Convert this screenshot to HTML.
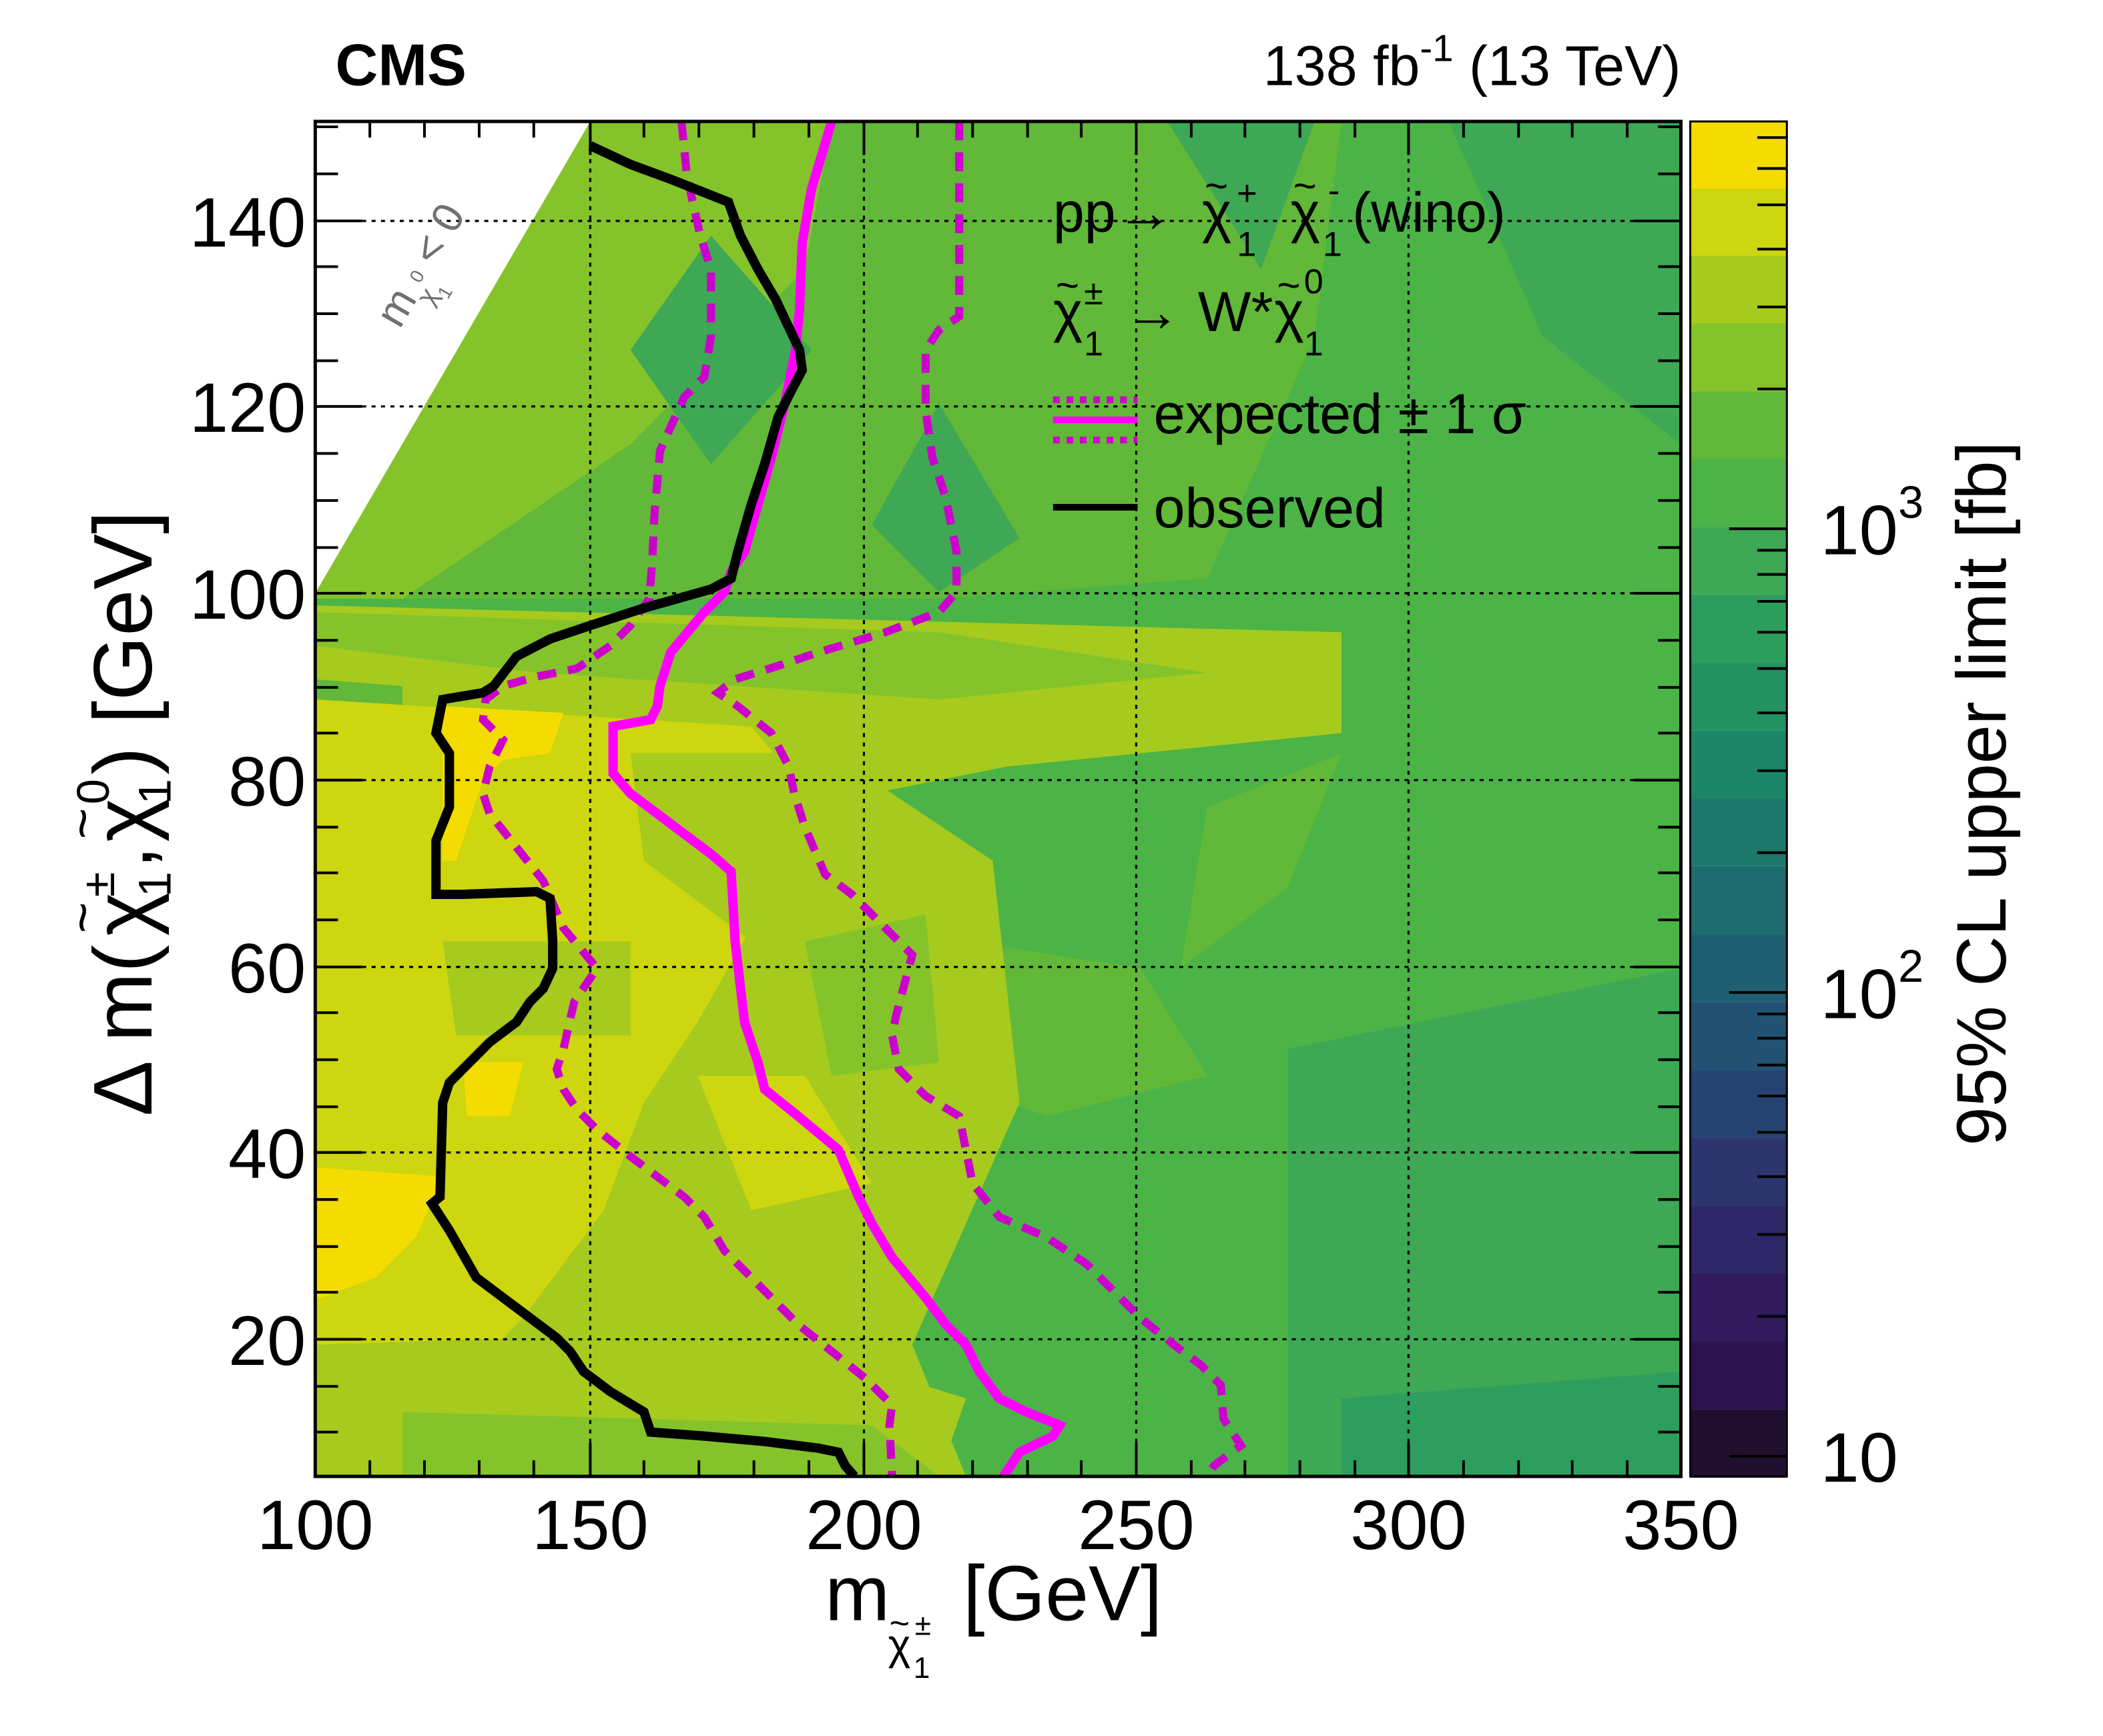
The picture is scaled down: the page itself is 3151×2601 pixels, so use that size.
<!DOCTYPE html>
<html><head><meta charset="utf-8"><style>
html,body{margin:0;padding:0;background:#fff;}
svg{display:block;font-family:"Liberation Sans",sans-serif;}
</style></head><body>
<svg width="3151" height="2601" viewBox="0 0 3151 2601" xmlns="http://www.w3.org/2000/svg">
<defs><clipPath id="pc"><rect x="235" y="90" width="1018" height="1008"/></clipPath></defs>
<g transform="matrix(2.01 0 0 2.014 0 0.7)">
<g clip-path="url(#pc)">
<rect x="235" y="90" width="1018" height="1008" fill="#4cb447"/>
<polygon points="235,90 1000,90 980,250 900,430 700,445 235,445" fill="#62b838"/>
<polygon points="440,90 620,90 600,200 470,330 300,445 235,445 235,300" fill="#84c42a"/>
<polygon points="1000,90 1253,90 1253,450 900,450 980,250" fill="#4cb447"/>
<polygon points="1080,90 1253,90 1253,330 1150,250" fill="#3ea854"/>
<polygon points="470,260 530,175 605,260 530,345" fill="#3ea854"/>
<polygon points="650,390 700,300 760,400 700,440" fill="#3ea854"/>
<polygon points="870,90 980,90 940,200" fill="#3ea854"/>
<polygon points="235,450 1000,470 1000,545 750,570 600,600 235,560" fill="#a6ca1e"/>
<polygon points="235,455 700,470 900,500 700,520 400,500 235,480" fill="#84c42a"/>
<polygon points="235,505 300,510 300,540 235,545" fill="#62b838"/>
<polygon points="700,620 1000,560 1253,560 1253,1098 700,1098 720,900" fill="#4cb447"/>
<polygon points="900,600 1000,560 960,660 880,720" fill="#62b838"/>
<polygon points="720,700 850,720 900,800 780,830 700,800" fill="#62b838"/>
<polygon points="960,780 1253,720 1253,1098 960,1098" fill="#3ea854"/>
<polygon points="1000,1040 1253,1020 1253,1098 1000,1098" fill="#2e9e5e"/>
<polygon points="235,540 620,560 740,640 760,820 680,1000 720,1098 235,1098" fill="#a6ca1e"/>
<polygon points="235,520 560,540 610,600 560,690 520,760 480,820 450,900 390,980 310,1060 235,1070" fill="#cdd60f"/>
<polygon points="470,560 600,560 640,640 560,700 480,640" fill="#a6ca1e"/>
<polygon points="330,700 470,700 470,770 340,770" fill="#a6ca1e"/>
<polygon points="600,700 690,680 700,790 620,800" fill="#84c42a"/>
<polygon points="520,800 600,800 650,880 560,900" fill="#cdd60f"/>
<polygon points="235,1000 560,990 720,1040 700,1098 235,1098" fill="#a6ca1e"/>
<polygon points="300,1050 650,1060 700,1098 300,1098" fill="#84c42a"/>
<polygon points="235,868 330,875 310,920 280,950 240,965 235,965" fill="#f5dc00"/>
<polygon points="330,525 420,530 410,560 375,565 360,580 340,640 330,640" fill="#f5dc00"/>
<polygon points="345,790 390,790 380,830 348,830" fill="#f5dc00"/>
<polygon points="235,90 440,90 235,441" fill="#fff"/>
</g>
<g stroke="#000" stroke-width="1.6" stroke-dasharray="3,4">
<line x1="440" y1="90" x2="440" y2="1098"/><line x1="644" y1="90" x2="644" y2="1098"/>
<line x1="847" y1="90" x2="847" y2="1098"/><line x1="1050" y1="90" x2="1050" y2="1098"/>
<line x1="235" y1="996" x2="1253" y2="996"/><line x1="235" y1="857" x2="1253" y2="857"/>
<line x1="235" y1="719" x2="1253" y2="719"/><line x1="235" y1="580" x2="1253" y2="580"/>
<line x1="235" y1="441" x2="1253" y2="441"/><line x1="235" y1="302" x2="1253" y2="302"/>
<line x1="235" y1="164" x2="1253" y2="164"/>
</g>
<g clip-path="url(#pc)" fill="none" stroke-linejoin="miter">
<polyline stroke="#cc00cc" stroke-width="6" stroke-dasharray="14,9" points="508,90 512,130 522,175 530,200 530,250 525,280 510,295 492,335 488,380 486,420 484,445 470,465 455,480 430,497 400,503 375,510 362,520 360,535 375,550 365,570 360,590 365,605 385,630 405,655 420,690 445,720 428,745 420,780 415,795 420,810 430,825 445,840 470,860 490,875 510,890 525,905 540,930 555,945 575,965 595,985 620,1005 645,1025 665,1045 663,1060 665,1098"/>
<polyline stroke="#cc00cc" stroke-width="6" stroke-dasharray="14,9" points="715,90 715,150 715,235 700,245 690,260 690,305 695,340 705,370 713,410 713,440 700,455 660,470 610,485 580,495 548,505 535,515 550,525 575,545 588,570 592,590 600,615 615,650 635,665 655,685 680,710 672,740 668,755 665,770 670,795 690,815 715,830 720,855 725,880 745,905 780,920 810,940 830,960 850,980 875,1000 895,1015 910,1030 912,1055 925,1075 905,1090 900,1098"/>
<polyline stroke="#ff00ff" stroke-width="7" points="620,90 605,140 598,180 596,230 593,260 585,300 575,340 565,375 555,410 545,425 540,440 525,455 500,485 492,510 490,525 485,535 457,540 457,575 470,590 490,605 510,620 530,635 545,648 548,700 555,760 565,790 570,810 595,830 625,855 640,890 650,910 665,935 690,965 705,985 720,1000 730,1020 745,1040 765,1050 790,1060 785,1068 760,1080 748,1098"/>
<polyline stroke="#000" stroke-width="7" points="440,108 470,122 500,133 543,150 552,175 565,200 578,222 596,260 598,275 590,290 580,310 570,345 560,375 550,410 545,430 530,438 480,452 440,465 410,475 385,488 368,510 360,515 330,520 325,545 335,560 335,600 325,625 325,665 345,665 400,663 410,668 412,700 412,720 405,735 395,745 385,760 365,775 345,795 335,805 330,820 328,890 322,895 335,915 355,950 375,965 395,980 415,995 425,1005 435,1020 455,1035 480,1050 485,1065 525,1068 570,1072 610,1077 625,1080 630,1090 637,1098"/>
</g>
<rect x="235" y="90" width="1018" height="1008" fill="none" stroke="#000" stroke-width="2.5"/>
<g stroke="#000" stroke-width="2">
<path d="M235,1098v-25M275.7,1098v-12M316.4,1098v-12M357.2,1098v-12M397.9,1098v-12M440,1098v-25M480,1098v-12M521,1098v-12M562,1098v-12M603,1098v-12M644,1098v-25M684,1098v-12M725,1098v-12M766,1098v-12M806,1098v-12M847,1098v-25M888,1098v-12M928,1098v-12M969,1098v-12M1010,1098v-12M1050,1098v-25M1091,1098v-12M1132,1098v-12M1172,1098v-12M1213,1098v-12"/>
<path d="M235,90v25M275.7,90v12M316.4,90v12M357.2,90v12M397.9,90v12M440,90v25M480,90v12M521,90v12M562,90v12M603,90v12M644,90v25M684,90v12M725,90v12M766,90v12M806,90v12M847,90v25M888,90v12M928,90v12M969,90v12M1010,90v12M1050,90v25M1091,90v12M1132,90v12M1172,90v12M1213,90v12"/>
<path d="M235,1065h17M235,1031h17M235,996h35M235,961h17M235,927h17M235,892h17M235,857h35M235,823h17M235,788h17M235,753h17M235,719h35M235,684h17M235,649h17M235,615h17M235,580h35M235,545h17M235,511h17M235,476h17M235,441h35M235,407h17M235,372h17M235,337h17M235,302h35M235,268h17M235,233h17M235,198h17M235,164h35M235,129h17M235,94h17"/>
<path d="M1253,1065h-17M1253,1031h-17M1253,996h-35M1253,961h-17M1253,927h-17M1253,892h-17M1253,857h-35M1253,823h-17M1253,788h-17M1253,753h-17M1253,719h-35M1253,684h-17M1253,649h-17M1253,615h-17M1253,580h-35M1253,545h-17M1253,511h-17M1253,476h-17M1253,441h-35M1253,407h-17M1253,372h-17M1253,337h-17M1253,302h-35M1253,268h-17M1253,233h-17M1253,198h-17M1253,164h-35M1253,129h-17M1253,94h-17"/>
</g>
<g>
<rect x="1260" y="1048" width="72" height="51" fill="#210f30"/>
<rect x="1260" y="997" width="72" height="51" fill="#2c1350"/>
<rect x="1260" y="947" width="72" height="51" fill="#301b5e"/>
<rect x="1260" y="896" width="72" height="51" fill="#2e2868"/>
<rect x="1260" y="846" width="72" height="51" fill="#2b366f"/>
<rect x="1260" y="795" width="72" height="51" fill="#264472"/>
<rect x="1260" y="745" width="72" height="51" fill="#225273"/>
<rect x="1260" y="694" width="72" height="51" fill="#1f5f72"/>
<rect x="1260" y="644" width="72" height="51" fill="#1d6c70"/>
<rect x="1260" y="593" width="72" height="51" fill="#1c796c"/>
<rect x="1260" y="543" width="72" height="51" fill="#1d8668"/>
<rect x="1260" y="492" width="72" height="51" fill="#239262"/>
<rect x="1260" y="442" width="72" height="51" fill="#2c9e5c"/>
<rect x="1260" y="391" width="72" height="51" fill="#3ea854"/>
<rect x="1260" y="341" width="72" height="51" fill="#4cb447"/>
<rect x="1260" y="290" width="72" height="51" fill="#62b838"/>
<rect x="1260" y="240" width="72" height="51" fill="#84c42a"/>
<rect x="1260" y="189" width="72" height="51" fill="#a6ca1e"/>
<rect x="1260" y="139" width="72" height="51" fill="#cdd60f"/>
<rect x="1260" y="90" width="72" height="50" fill="#f5dc00"/>
<rect x="1260" y="90" width="72" height="1008" fill="none" stroke="#000" stroke-width="1.5"/>
<g stroke="#000" stroke-width="2">
<path d="M1332,1083h-43M1332,979h-22M1332,918h-22M1332,875h-22M1332,842h-22M1332,815h-22M1332,792h-22M1332,772h-22M1332,754h-22M1332,738h-43M1332,634h-22M1332,573h-22M1332,530h-22M1332,497h-22M1332,470h-22M1332,447h-22M1332,427h-22M1332,409h-22M1332,393h-43M1332,289h-22M1332,228h-22M1332,185h-22M1332,152h-22M1332,125h-22M1332,102h-22"/>
</g>
</g>
<g font-size="52" fill="#000">
<g text-anchor="middle">
<text x="235" y="1152">100</text><text x="440" y="1152">150</text><text x="644" y="1152">200</text>
<text x="847" y="1152">250</text><text x="1050" y="1152">300</text><text x="1253" y="1152">350</text>
</g>
<g text-anchor="end">
<text x="228" y="1015">20</text><text x="228" y="876">40</text><text x="228" y="738">60</text>
<text x="228" y="599">80</text><text x="228" y="460">100</text><text x="228" y="321">120</text><text x="228" y="183">140</text>
</g>
<text x="1357" y="1102">10</text>
<text x="1357" y="757">10</text><text x="1415" y="730" font-size="34">2</text>
<text x="1357" y="412">10</text><text x="1415" y="385" font-size="34">3</text>
</g>
<text x="250" y="63" font-size="44" font-weight="bold">CMS</text>
<text x="1253" y="63" font-size="42" text-anchor="end">138 fb<tspan font-size="28" dy="-18">-1</tspan><tspan dy="18"> (13 TeV)</tspan></text>
<g font-size="58" fill="#000">
<text x="615" y="1205">m</text>
<text x="662" y="1234" font-size="32">χ</text>
<text x="663" y="1216" font-size="26">~</text>
<text x="682" y="1216" font-size="22">±</text>
<text x="681" y="1248" font-size="22">1</text>
<text x="718" y="1205">[GeV]</text>
</g>
<g transform="translate(113,590) rotate(-90)" font-size="62" fill="#000">
<text x="-240" y="0">Δ m(</text>
<text x="-106" y="0">χ</text>
<text x="-104" y="-38" font-size="40">~</text>
<text x="-77" y="-28" font-size="34">±</text>
<text x="-77" y="14" font-size="34">1</text>
<text x="-56" y="0">,</text>
<text x="-36" y="0">χ</text>
<text x="-34" y="-38" font-size="40">~</text>
<text x="-8" y="-32" font-size="34">0</text>
<text x="-8" y="14" font-size="34">1</text>
<text x="14" y="0">) [GeV]</text>
</g>
<text transform="translate(1495,590) rotate(-90)" font-size="52" text-anchor="middle">95% CL upper limit [fb]</text>
<g font-size="42" fill="#000">
<text x="785" y="172">pp</text>
<text x="832" y="172">→</text>
<text x="896" y="172">χ</text>
<text x="898" y="148" font-size="30">~</text>
<text x="922" y="152" font-size="26">+</text>
<text x="922" y="190" font-size="26">1</text>
<text x="962" y="172">χ</text>
<text x="964" y="148" font-size="30">~</text>
<text x="990" y="150" font-size="26">-</text>
<text x="986" y="190" font-size="26">1</text>
<text x="1008" y="172">(wino)</text>
<text x="785" y="246">χ</text>
<text x="787" y="222" font-size="30">~</text>
<text x="808" y="226" font-size="26">±</text>
<text x="808" y="264" font-size="26">1</text>
<text x="838" y="246">→</text>
<text x="893" y="246">W*</text>
<text x="950" y="246">χ</text>
<text x="952" y="222" font-size="30">~</text>
<text x="972" y="218" font-size="26">0</text>
<text x="972" y="264" font-size="26">1</text>
<text x="860" y="322">expected ± 1 σ</text>
<text x="860" y="392">observed</text>
</g>
<g fill="none">
<line x1="785" y1="297" x2="848" y2="297" stroke="#cc00cc" stroke-width="5" stroke-dasharray="5,5"/>
<line x1="785" y1="327" x2="848" y2="327" stroke="#cc00cc" stroke-width="5" stroke-dasharray="5,5"/>
<line x1="785" y1="312" x2="848" y2="312" stroke="#ff00ff" stroke-width="5"/>
<line x1="785" y1="377" x2="848" y2="377" stroke="#000" stroke-width="5"/>
</g>
<text transform="translate(298,245) rotate(-60)" font-size="32" fill="#707070">m<tspan font-size="20" dy="12">χ</tspan><tspan font-size="14" dy="8">1</tspan><tspan font-size="14" dx="-8" dy="-24">0</tspan><tspan font-size="32" dy="4"> &lt; 0</tspan></text>
</g>
</svg>
</body></html>
